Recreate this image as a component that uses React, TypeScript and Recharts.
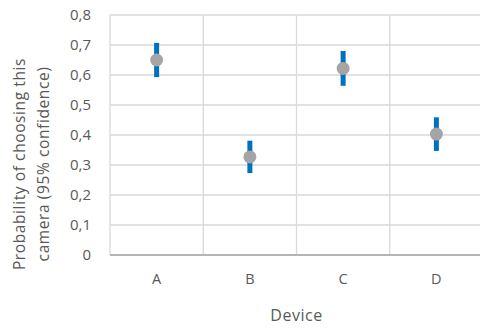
import React from 'react';
import { ComposedChart, Scatter, XAxis, YAxis, CartesianGrid, ErrorBar } from 'recharts';

const devices = ['A', 'B', 'C', 'D'];
const means = [0.65, 0.327, 0.622, 0.403];
const errors = [0.057, 0.054, 0.058, 0.056];
const yTicks = [0, 0.1, 0.2, 0.3, 0.4, 0.5, 0.6, 0.7, 0.8];

const data = devices.map((d, i) => ({ device: d, mean: means[i], err: errors[i] }));

const FONT = '"Open Sans", "Noto Sans", sans-serif';
const TEXT = '#595959';

const Dot = (props: any) => {
  const { cx, cy } = props;
  return <circle cx={cx} cy={cy} r={6.5} fill="#A5A5A5" />;
};

const YLabel = () => {
  return (
    <text
      transform={`translate(${32},${164}) rotate(-90)`}
      textAnchor="middle"
      fill={TEXT}
      fontSize={15.5}
      letterSpacing={0.6}
      fontFamily={FONT}
    >
      <tspan x={0} dy={-7}>Probability of choosing this</tspan>
      <tspan x={0} dy={24}>camera (95% confidence)</tspan>
    </text>
  );
};

export default function App() {
  const W = 483;
  return (
    <div style={{ position: 'absolute', left: 0, top: 0, width: 480, height: 328, overflow: 'hidden', background: '#fff' }}>
      <ComposedChart width={W} height={328} data={data} margin={{ top: 15, right: 0, bottom: 0, left: 0 }}>
        <CartesianGrid
          stroke="#D9D9D9"
          strokeWidth={1.3}
          horizontalValues={yTicks}
          verticalCoordinatesGenerator={({ offset }: any) =>
            [0, 1, 2, 3, 4].map((i) => offset.left + (i * offset.width) / devices.length)
          }
        />
        <XAxis
          dataKey="device"
          type="category"
          scale="band"
          tickLine={false}
          axisLine={{ stroke: '#B5B5B5', strokeWidth: 2 }}
          tick={{ fill: TEXT, fontSize: 14.5, fontFamily: FONT }}
          tickSize={0}
          tickMargin={19}
          height={73}
          label={{ value: 'Device', position: 'insideBottom', offset: 7, fill: TEXT, fontSize: 16, fontFamily: FONT, letterSpacing: 0.5 }}
        />
        <YAxis
          type="number"
          domain={[0, 0.8]}
          ticks={yTicks}
          interval={0}
          width={110}
          tickLine={false}
          axisLine={false}
          tickSize={0}
          tickMargin={19}
          tick={{ fill: TEXT, fontSize: 15, fontFamily: FONT }}
          tickFormatter={(v: number) => String(Math.round(v * 10) / 10).replace('.', ',')}
          label={<YLabel />}
        />
        <Scatter dataKey="mean" isAnimationActive={false} shape={<Dot />}>
          <ErrorBar dataKey="err" direction="y" width={0} stroke="#0070C0" strokeWidth={5} isAnimationActive={false} />
        </Scatter>
      </ComposedChart>
    </div>
  );
}
